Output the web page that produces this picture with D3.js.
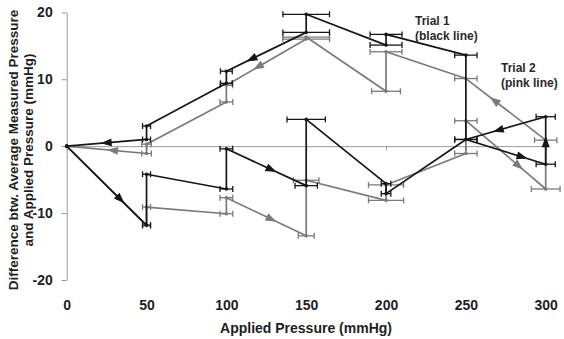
<!DOCTYPE html>
<html><head><meta charset="utf-8">
<script src="https://cdn.jsdelivr.net/npm/d3@7"></script>
<style>
html,body{margin:0;padding:0;background:#fff;}
svg{display:block;font-family:"Liberation Sans",Arial,sans-serif;}
</style></head>
<body><svg id="chart" width="564" height="339"></svg>
<script>
// ---- data (path order: ascending pressure, then descending) ----
const xTicks = [0, 50, 100, 150, 200, 250, 300];
const yTicks = [-20, -10, 0, 10, 20];

// Trial 1 (black line)
const applied1 = [0, 50, 50, 100, 100, 150, 150, 200, 200, 250, 300, 300, 250, 250, 200, 200, 150, 150, 100, 100, 50, 50, 0];
const diff1    = [0, -11.8, -4.2, -6.4, -0.4, -5.9, 4.0, -5.6, -7.1, 1.0, -2.7, 4.4, 1.0, 13.6, 16.7, 15.1, 19.7, 17.0, 11.2, 9.4, 3.0, 1.0, 0];
const errX1    = [0, 2.5, 2.5, 4, 4, 7, 12, 3, 3, 7, 6, 6, 7, 7, 10, 10, 14.6, 14.6, 3.7, 3.7, 2.5, 2.5, 0];
const arrowSeg1 = [0, 4, 9, 10, 11, 17, 21];
const arrowT1   = [0.67, 0.56, 0.7, 0.46, 0.59, 0.68, 0.5];

// Trial 2 (pink line, shown grey)
const applied2 = [0, 50, 50, 100, 100, 150, 150, 200, 200, 250, 250, 300, 300, 250, 200, 200, 150, 150, 100, 100, 50, 50, 0];
const diff2    = [0, -11.9, -9.1, -10.1, -7.7, -13.4, -5.1, -8.1, -5.8, -1.1, 3.8, -6.4, 0.9, 10.1, 14.1, 8.2, 16.3, 16.0, 9.1, 6.6, 0.3, -1.1, 0];
const errX2    = [0, 2.5, 2.5, 4, 4, 5, 8, 11, 11, 7, 7, 9, 7, 7, 10, 9, 14.6, 14.6, 4, 4, 3, 3, 0];
const arrowSeg2 = [4, 10, 12, 17, 21];
const arrowT2   = [0.56, 0.66, 0.64, 0.6, 0.42];

const legend1 = ["Trial 1", "(black line)"];
const legend2 = ["Trial 2", "(pink line)"];
const yTitle = ["Difference btw. Average Measured Pressure", "and Applied Pressure (mmHg)"];
const xTitle = "Applied Pressure (mmHg)";

// ---- drawing ----
const svg = d3.select("#chart");
const x = d3.scaleLinear().domain([0, 300]).range([66.7, 545.7]);
const y = d3.scaleLinear().domain([-20, 20]).range([280, 12.3]);
const axisCol = "#9a9a9a", textCol = "#1e1e1e";

// zero line with small ticks
const zeroAxis = svg.append("g").attr("transform", `translate(0,${y(0)})`)
  .call(d3.axisBottom(x).tickValues(xTicks).tickSize(4).tickSizeOuter(0).tickFormat(""));
zeroAxis.selectAll("path,line").attr("stroke", axisCol).attr("stroke-width", 1);

// x labels at bottom
const xLab = svg.append("g").attr("transform", `translate(0,296)`)
  .call(d3.axisBottom(x).tickValues(xTicks).tickSize(0).tickPadding(0).tickFormat(d => String(d)));
xLab.select(".domain").remove();
xLab.selectAll("text").attr("font-size", 14).attr("font-weight", "bold").attr("fill", textCol)
  .attr("font-family", "Liberation Sans, Arial, sans-serif").attr("dy", "1em");

// y axis
const yAx = svg.append("g").attr("transform", `translate(${x(0)},0)`)
  .call(d3.axisLeft(y).tickValues(yTicks).tickSize(5).tickSizeOuter(0).tickPadding(9).tickFormat(d => String(d)));
yAx.selectAll("path,line").attr("stroke", axisCol).attr("stroke-width", 1);
yAx.selectAll("text").attr("font-size", 14).attr("font-weight", "bold").attr("fill", textCol)
  .attr("font-family", "Liberation Sans, Arial, sans-serif");

// titles
svg.append("text").attr("x", 306).attr("y", 333).attr("text-anchor", "middle")
  .attr("font-size", 14).attr("font-weight", "bold").attr("fill", textCol).text(xTitle);
yTitle.forEach((t, i) => {
  svg.append("text").attr("transform", `translate(${17.5 + i * 15},150) rotate(-90)`)
    .attr("text-anchor", "middle").attr("font-size", 13.5).attr("font-weight", "bold")
    .attr("fill", textCol).text(t);
});

function drawTrial(applied, diff, errX, aSeg, aT, color) {
  const g = svg.append("g");
  const pts = applied.map((a, i) => [a, diff[i], errX[i]]);
  // error bars
  pts.filter(p => p[2] > 0).forEach(p => {
    const cy = y(p[1]), x0 = x(p[0] - p[2]), x1 = x(p[0] + p[2]);
    g.append("line").attr("x1", x0).attr("x2", x1).attr("y1", cy).attr("y2", cy)
      .attr("stroke", color).attr("stroke-width", 1.3);
    [x0, x1].forEach(xx => g.append("line").attr("x1", xx).attr("x2", xx)
      .attr("y1", cy - 3).attr("y2", cy + 3).attr("stroke", color).attr("stroke-width", 1.3));
  });
  // path
  const line = d3.line().x(d => x(d[0])).y(d => y(d[1]));
  g.append("path").datum(pts).attr("d", line).attr("fill", "none")
    .attr("stroke", color).attr("stroke-width", 1.7).attr("stroke-linejoin", "round");
  // vertex dots
  g.selectAll("circle").data(pts).join("circle")
    .attr("cx", d => x(d[0])).attr("cy", d => y(d[1])).attr("r", 1.8).attr("fill", color);
  // arrows
  aSeg.forEach((s, k) => {
    const p0 = pts[s], p1 = pts[s + 1], t = aT[k];
    const px0 = x(p0[0]), py0 = y(p0[1]), px1 = x(p1[0]), py1 = y(p1[1]);
    const cx = px0 + (px1 - px0) * t, cy = py0 + (py1 - py0) * t;
    const ang = Math.atan2(py1 - py0, px1 - px0) * 180 / Math.PI;
    g.append("path").attr("d", "M6,0 L-5,-4 L-5,4 Z").attr("fill", color)
      .attr("transform", `translate(${cx},${cy}) rotate(${ang})`);
  });
}
drawTrial(applied2, diff2, errX2, arrowSeg2, arrowT2, "#7a7a7a");
drawTrial(applied1, diff1, errX1, arrowSeg1, arrowT1, "#161616");

// legend text
[[legend1, 415, 25], [legend2, 501, 72]].forEach(([lines, lx, ly]) => {
  lines.forEach((t, i) => svg.append("text").attr("x", lx).attr("y", ly + i * 15)
    .attr("font-size", 12).attr("font-weight", "bold").attr("fill", "#2a2a2a").text(t));
});
</script></body></html>
